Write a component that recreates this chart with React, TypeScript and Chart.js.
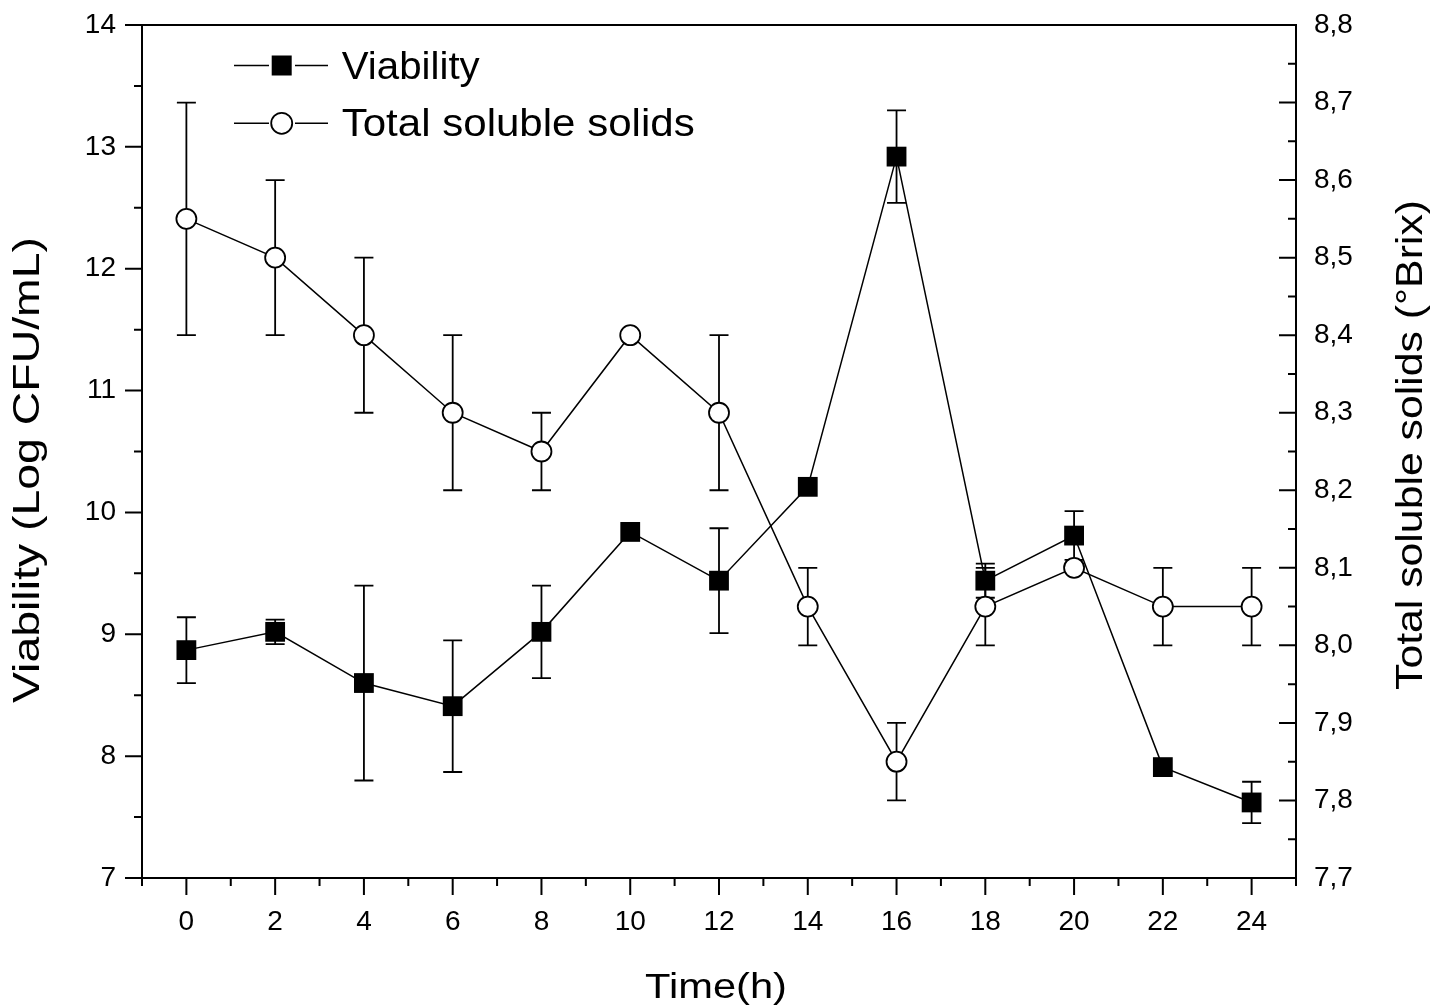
import React, { useEffect, useRef } from 'react';
import { Chart, registerables } from 'chart.js';

Chart.register(...registerables);

// ---------- data ----------
const timeHours = [0, 2, 4, 6, 8, 10, 12, 14, 16, 18, 20, 22, 24];
const viability = [8.87, 9.02, 8.6, 8.41, 9.02, 9.84, 9.44, 10.21, 12.92, 9.44, 9.81, 7.91, 7.62];
const viabilityErr = [0.27, 0.1, 0.8, 0.54, 0.38, 0, 0.43, 0, 0.38, 0.14, 0.2, 0, 0.17];
const solubleSolids = [8.55, 8.5, 8.4, 8.3, 8.25, 8.4, 8.3, 8.05, 7.85, 8.05, 8.1, 8.05, 8.05];
const solubleSolidsErr = [0.15, 0.1, 0.1, 0.1, 0.05, 0, 0.1, 0.05, 0.05, 0.05, 0, 0.05, 0.05];

const xTickValues = [0, 2, 4, 6, 8, 10, 12, 14, 16, 18, 20, 22, 24];
const xMinorValues = [-1, 1, 3, 5, 7, 9, 11, 13, 15, 17, 19, 21, 23, 25];
const leftTickValues = [7, 8, 9, 10, 11, 12, 13, 14];
const leftMinorValues = [7.5, 8.5, 9.5, 10.5, 11.5, 12.5, 13.5];
const rightTickValues = [7.7, 7.8, 7.9, 8.0, 8.1, 8.2, 8.3, 8.4, 8.5, 8.6, 8.7, 8.8];
const rightMinorValues = [7.75, 7.85, 7.95, 8.05, 8.15, 8.25, 8.35, 8.45, 8.55, 8.65, 8.75];

const seriesLabels = ['Viability', 'Total soluble solids'];
const xTitle = 'Time(h)';
const leftTitle = 'Viability (Log CFU/mL)';
const rightTitle = 'Total soluble solids (°Brix)';

const FONT = '"Liberation Sans", Arial, Helvetica, sans-serif';

function drawFitted(ctx: CanvasRenderingContext2D, text: string, x: number, y: number, rot: number, targetW: number, fontPx: number, align: 'center' | 'left') {
  ctx.save();
  ctx.translate(x, y);
  ctx.rotate(rot);
  ctx.font = `${fontPx}px ${FONT}`;
  const w = ctx.measureText(text).width;
  ctx.scale(targetW / w, 1);
  ctx.textAlign = align;
  ctx.textBaseline = 'alphabetic';
  ctx.fillStyle = '#000';
  ctx.fillText(text, 0, 0);
  ctx.restore();
}

const errorBarsPlugin = {
  id: 'errorBars',
  beforeDatasetsDraw(chart: any) {
    const ctx = chart.ctx;
    const xs = chart.scales.x;
    ctx.save();
    ctx.strokeStyle = '#000';
    ctx.lineWidth = 1.8;
    chart.data.datasets.forEach((ds: any) => {
      const ys = chart.scales[ds.yAxisID];
      const errs: number[] = ds.errors;
      ds.data.forEach((p: any, j: number) => {
        const e = errs[j];
        if (!e) return;
        const x = xs.getPixelForValue(p.x);
        const yt = ys.getPixelForValue(p.y + e);
        const yb = ys.getPixelForValue(p.y - e);
        const cw = 9.5;
        ctx.beginPath();
        ctx.moveTo(x, yt); ctx.lineTo(x, yb);
        ctx.moveTo(x - cw, yt); ctx.lineTo(x + cw, yt);
        ctx.moveTo(x - cw, yb); ctx.lineTo(x + cw, yb);
        ctx.stroke();
      });
    });
    ctx.restore();
  },
};

const framePlugin = {
  id: 'frameTicks',
  afterDraw(chart: any) {
    const { ctx, chartArea: a, scales } = chart;
    ctx.save();
    ctx.strokeStyle = '#000';
    ctx.lineWidth = 2;
    ctx.strokeRect(a.left, a.top, a.right - a.left, a.bottom - a.top);
    ctx.beginPath();
    const MAJ = 17, MIN = 8;
    leftTickValues.forEach(v => { const y = scales.y.getPixelForValue(v); ctx.moveTo(a.left - MAJ, y); ctx.lineTo(a.left, y); });
    leftMinorValues.forEach(v => { const y = scales.y.getPixelForValue(v); ctx.moveTo(a.left - MIN, y); ctx.lineTo(a.left, y); });
    rightTickValues.forEach(v => { const y = scales.y2.getPixelForValue(v); ctx.moveTo(a.right - MAJ, y); ctx.lineTo(a.right, y); });
    rightMinorValues.forEach(v => { const y = scales.y2.getPixelForValue(v); ctx.moveTo(a.right - MIN, y); ctx.lineTo(a.right, y); });
    xTickValues.forEach(v => { const x = scales.x.getPixelForValue(v); ctx.moveTo(x, a.bottom); ctx.lineTo(x, a.bottom + MAJ); });
    xMinorValues.forEach(v => { const x = scales.x.getPixelForValue(v); ctx.moveTo(x, a.bottom); ctx.lineTo(x, a.bottom + MIN); });
    ctx.stroke();

    // axis titles
    drawFitted(ctx, leftTitle, 39, 470, -Math.PI / 2, 466, 37, 'center');
    drawFitted(ctx, rightTitle, 1422, 445, -Math.PI / 2, 490, 37, 'center');
    drawFitted(ctx, xTitle, 716, 998, 0, 142, 35, 'center');

    // legend
    const ds = chart.data.datasets;
    const rows = [65.5, 123.3];
    const widths = [138, 353];
    ds.forEach((d: any, i: number) => {
      const y = rows[i];
      const mx = 281.7;
      ctx.lineWidth = 1.5;
      ctx.strokeStyle = '#000';
      ctx.beginPath();
      ctx.moveTo(234, y); ctx.lineTo(269, y);
      ctx.moveTo(295, y); ctx.lineTo(328, y);
      ctx.stroke();
      if (i === 0) {
        ctx.fillStyle = d.pointBackgroundColor;
        ctx.fillRect(mx - 10, y - 10, 20, 20);
      } else {
        ctx.beginPath();
        ctx.arc(mx, y, 10.5, 0, Math.PI * 2);
        ctx.fillStyle = d.pointBackgroundColor;
        ctx.fill();
        ctx.lineWidth = 1.8;
        ctx.stroke();
      }
      drawFitted(ctx, d.label, 341.7, y + 13, 0, widths[i], 38, 'left');
    });
    ctx.restore();
  },
};

const noPad = (s: any) => { s.paddingTop = 0; s.paddingBottom = 0; s.paddingLeft = 0; s.paddingRight = 0; };

export default function App() {
  const canvasRef = useRef<HTMLCanvasElement | null>(null);

  useEffect(() => {
    const canvas = canvasRef.current;
    if (!canvas) return;
    const tickFont = { family: FONT, size: 28 };
    const chart = new Chart(canvas, {
      type: 'line',
      data: {
        datasets: [
          {
            label: seriesLabels[0],
            data: timeHours.map((t, i) => ({ x: t, y: viability[i] })),
            errors: viabilityErr,
            yAxisID: 'y',
            borderColor: '#000',
            borderWidth: 1.5,
            pointStyle: 'rect',
            pointRadius: 14,
            pointBackgroundColor: '#000',
            pointBorderColor: '#000',
            pointBorderWidth: 0,
            tension: 0,
            fill: false,
          } as any,
          {
            label: seriesLabels[1],
            data: timeHours.map((t, i) => ({ x: t, y: solubleSolids[i] })),
            errors: solubleSolidsErr,
            yAxisID: 'y2',
            borderColor: '#000',
            borderWidth: 1.5,
            pointStyle: 'circle',
            pointRadius: 10,
            pointBackgroundColor: '#fff',
            pointBorderColor: '#000',
            pointBorderWidth: 1.8,
            tension: 0,
            fill: false,
          } as any,
        ],
      },
      options: {
        responsive: false,
        animation: false,
        devicePixelRatio: 1,
        events: [],
        layout: { padding: { top: 25, left: 0, right: 0, bottom: 0 } },
        plugins: { legend: { display: false }, tooltip: { enabled: false }, title: { display: false } },
        scales: {
          x: {
            type: 'linear',
            position: 'bottom',
            min: -1,
            max: 25,
            grid: { display: false, drawTicks: false },
            border: { display: false },
            afterBuildTicks: (s: any) => { s.ticks = xTickValues.map(v => ({ value: v })); },
            afterFit: (s: any) => { s.height = 128; noPad(s); },
            ticks: { font: tickFont, color: '#000', padding: 27, maxRotation: 0, autoSkip: false, callback: (v: any) => String(v) },
          },
          y: {
            type: 'linear',
            position: 'left',
            min: 7,
            max: 14,
            grid: { display: false, drawTicks: false },
            border: { display: false },
            afterBuildTicks: (s: any) => { s.ticks = leftTickValues.map(v => ({ value: v })); },
            afterFit: (s: any) => { s.width = 142; noPad(s); },
            ticks: { font: tickFont, color: '#000', padding: 26, callback: (v: any) => String(v) },
          },
          y2: {
            type: 'linear',
            position: 'right',
            min: 7.7,
            max: 8.8,
            grid: { display: false, drawTicks: false },
            border: { display: false },
            afterBuildTicks: (s: any) => { s.ticks = rightTickValues.map(v => ({ value: v })); },
            afterFit: (s: any) => { s.width = 146; noPad(s); },
            ticks: { font: tickFont, color: '#000', padding: 18, callback: (v: any) => Number(v).toFixed(1).replace('.', ',') },
          },
        },
      } as any,
      plugins: [errorBarsPlugin, framePlugin],
    });
    return () => chart.destroy();
  }, []);

  return (
    <div style={{ position: 'fixed', left: 0, top: 0, width: 1442, height: 1006, background: '#fff' }}>
      <canvas ref={canvasRef} width={1442} height={1006} style={{ display: 'block', width: 1442, height: 1006 }} />
    </div>
  );
}
